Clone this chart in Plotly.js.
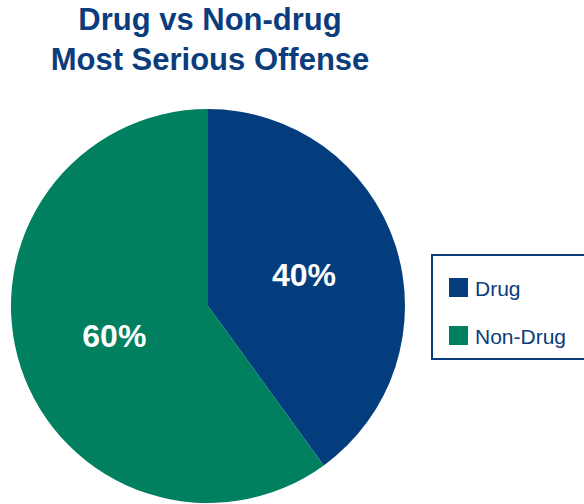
<!DOCTYPE html>
<html>
<head>
<meta charset="utf-8">
<script src="https://cdn.plot.ly/plotly-3.0.1.min.js"></script>
<style>html,body{margin:0;padding:0;background:#fff;}#chart{width:584px;height:504px;}</style>
</head>
<body>
<div id="chart"></div>
<script>
var labels = ["Drug", "Non-Drug"];
var values = [40, 60];
var colors = ["#033D7D", "#00805F"];
var titleLines = ["Drug vs Non-drug", "Most Serious Offense"];

var W = 584, H = 504;
function px(x){ return x / W; }
function py(y){ return 1 - y / H; }

var shapes = [{
  type: "rect", xref: "paper", yref: "paper",
  x0: px(432), x1: px(600), y0: py(359), y1: py(255),
  line: {color: "#0B3C7C", width: 2}, fillcolor: "rgba(0,0,0,0)"
}];
var annotations = [];
for (var i = 0; i < labels.length; i++) {
  var itemTop = 278 + i * 48;
  shapes.push({
    type: "rect", xref: "paper", yref: "paper",
    x0: px(449), x1: px(468), y0: py(itemTop + 19), y1: py(itemTop),
    line: {width: 0}, fillcolor: colors[i]
  });
  annotations.push({
    xref: "paper", yref: "paper", x: px(473), y: py(itemTop + 10),
    xanchor: "left", yanchor: "middle", showarrow: false,
    text: labels[i],
    font: {family: "Liberation Sans, Arial, sans-serif", size: 21, color: "#0B3C7C"}
  });
}

var data = [{
  type: "pie",
  labels: labels,
  values: values,
  marker: {colors: colors, line: {width: 0}},
  sort: false,
  direction: "clockwise",
  rotation: 0,
  textinfo: "percent",
  texttemplate: "%{percent:.0%}",
  textposition: "inside",
  insidetextorientation: "horizontal",
  textfont: {family: "Liberation Sans, Arial, sans-serif", size: 32, color: "#ffffff", weight: "bold"},
  hoverinfo: "none",
  domain: {x: [px(11), px(405)], y: [py(503), py(109)]},
  showlegend: false
}];

var layout = {
  width: W, height: H,
  margin: {l: 0, r: 0, t: 0, b: 0},
  paper_bgcolor: "#ffffff",
  showlegend: false,
  title: {
    text: "<b>" + titleLines.join("<br>") + "</b>",
    x: px(210), xanchor: "center", xref: "paper",
    y: py(30), yanchor: "top", yref: "container",
    font: {family: "Liberation Sans, Arial, sans-serif", size: 31, color: "#0B3C7C"}
  },
  shapes: shapes,
  annotations: annotations
};

Plotly.newPlot("chart", data, layout, {displayModeBar: false, staticPlot: true});
</script>
</body>
</html>
